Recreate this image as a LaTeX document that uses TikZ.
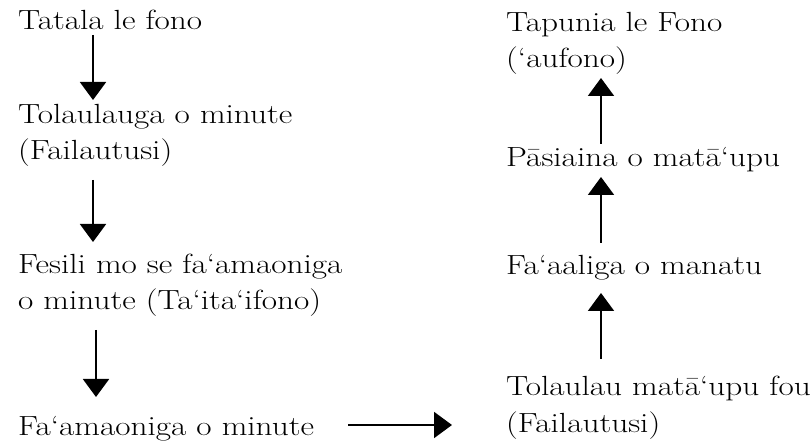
\documentclass[tikz,border=0pt]{standalone}
\usepackage{fontspec}
\setmainfont{Latin Modern Roman}[FakeStretch=1.2]
\usetikzlibrary{arrows.meta,calc}
\begin{document}
\begin{tikzpicture}[x=1pt,y=-1pt,
  lbl/.style={font=\fontsize{27.7}{36.5}\selectfont, inner sep=0pt, anchor=base west, align=left},
  arr/.style={line width=2pt, -{Triangle[width=26pt,length=18pt]}}]
\useasboundingbox (0,0) rectangle (812,446);
\node[lbl] (tatala) at (18,30) {Tatala le fono};
\node[lbl] (tolau) at (18,160) {Tolaulauga o minute\\(Failautusi)};
\node[lbl] (fesili) at (18,310) {Fesili mo se fa‘amaoniga\\o minute (Ta‘ita‘ifono)};
\node[lbl] (famao) at (18,436) {Fa‘amaoniga o minute};
\node[lbl] (tapunia) at (506,68) {Tapunia le Fono\\(‘aufono)};
\node[lbl] (pasi) at (506,167) {Pāsiaina o matā‘upu};
\node[lbl] (faali) at (506,275) {Fa‘aaliga o manatu};
\node[lbl] (tolaulau) at (506,432) {Tolaulau matā‘upu fou\\(Failautusi)};
\coordinate (xa) at (93,0);
\coordinate (xb) at (96,0);
\coordinate (xr) at (601,0);
\draw[arr] ($(tatala.base -| xa)+(0,5)$) -- ($(tolau.base -| xa)+(0,-60)$);
\draw[arr] ($(tolau.base -| xa)+(0,20)$) -- ($(fesili.base -| xa)+(0,-68)$);
\draw[arr] ($(fesili.base -| xb)+(0,20)$) -- ($(famao.base -| xb)+(0,-39)$);
\draw[arr] ($(famao.base west)+(330,-11)$) -- ($(tolaulau.base west)+(-54,-7)$);
\draw[arr] ($(tolaulau.base -| xr)+(0,-73)$) -- ($(faali.base -| xr)+(0,18)$);
\draw[arr] ($(faali.base -| xr)+(0,-32)$) -- ($(pasi.base -| xr)+(0,10)$);
\draw[arr] ($(pasi.base -| xr)+(0,-23)$) -- ($(tapunia.base -| xr)+(0,10)$);
\end{tikzpicture}
\end{document}
